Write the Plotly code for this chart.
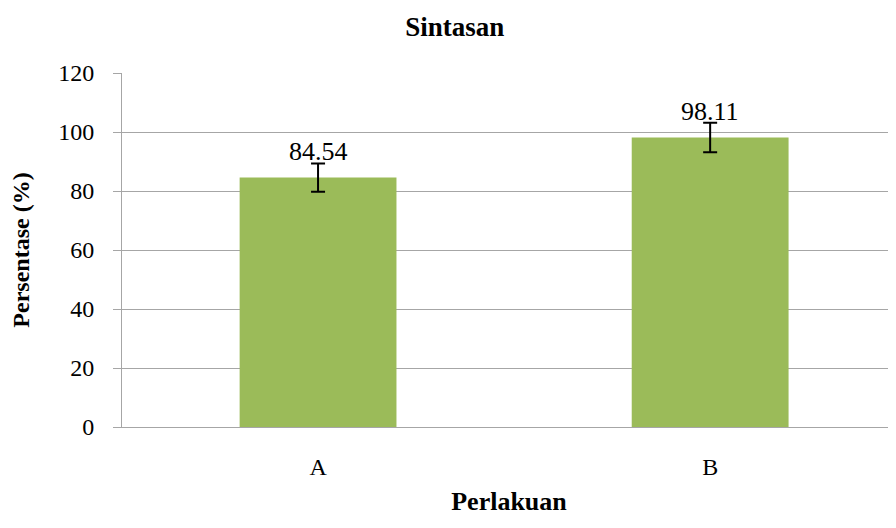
import plotly.graph_objects as go

categories = ["A", "B"]
values = [84.54, 98.11]
errors = [4.8, 5.0]
labels = ["84.54", "98.11"]
y_ticks = [0, 20, 40, 60, 80, 100, 120]

serif = "'Times New Roman', 'Liberation Serif', 'DejaVu Serif', serif"

fig = go.Figure()
fig.add_trace(go.Bar(
    x=categories, y=values, width=0.4,
    marker=dict(color="#9BBB59", line=dict(width=0)),
    error_y=dict(type="data", array=errors, visible=True,
                 color="black", thickness=2, width=7),
    hoverinfo="skip",
))

for c, v, t in zip(categories, values, labels):
    fig.add_annotation(x=c, y=v, text=t, showarrow=False,
                       yanchor="middle", yshift=26,
                       font=dict(family=serif, size=26, color="black"))

# page has an 8px body margin: shrink figure so the photographed area matches
fig.update_layout(
    width=888, height=520,
    margin=dict(l=114, r=0, t=65, b=101),
    paper_bgcolor="white", plot_bgcolor="white",
    showlegend=False,
    title=dict(text="<b>Sintasan</b>", x=0.503, xanchor="center",
               y=1 - 19 / 520, yanchor="middle",
               font=dict(family=serif, size=27, color="black")),
    bargap=0.6,
)

fig.update_xaxes(
    range=[-0.5, 1.474],
    showline=True, linecolor="#a6a6a6", linewidth=1,
    showgrid=False, ticks="",
    tickfont=dict(family=serif, size=24, color="black"),
    ticklabelstandoff=18,
    title=dict(text="<b>Perlakuan</b>", standoff=13,
               font=dict(family=serif, size=26, color="black")),
)

fig.update_yaxes(
    range=[0, 120], tickvals=y_ticks,
    showline=True, linecolor="#a6a6a6", linewidth=1,
    showgrid=True, gridcolor="#a6a6a6", gridwidth=1,
    ticks="outside", ticklen=8, tickcolor="#a6a6a6",
    tickfont=dict(family=serif, size=24, color="black"),
    ticklabelstandoff=14,
    zeroline=False,
    title=dict(text="<b>Persentase (%)</b>", standoff=30,
               font=dict(family=serif, size=24, color="black")),
)

fig.write_html("out.html")
